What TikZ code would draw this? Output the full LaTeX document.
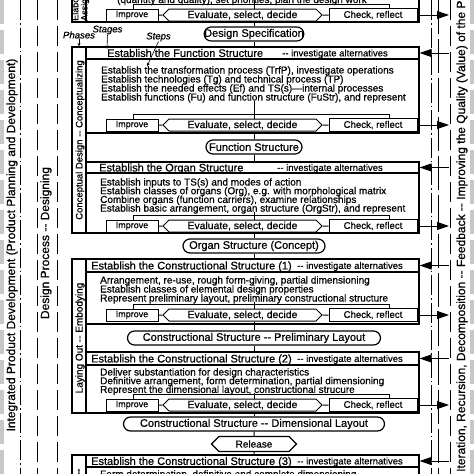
\documentclass[tikz,border=0pt]{standalone}
\usepackage{fontspec}
\setmainfont{Liberation Sans}[FakeBold=0.6]
\usetikzlibrary{shapes.symbols,arrows.meta}
\tikzset{
  ln/.style={line width=1pt},
  boxln/.style={draw,line width=1.2pt},
  hdrbox/.style={draw,line width=1.2pt,minimum width=333pt,minimum height=12pt,inner sep=0pt},
  hdrtxt/.style={anchor=west,inner sep=0pt,font=\fontsize{11}{11}\selectfont,text height=7.9pt,text depth=0pt},
  alttxt/.style={anchor=west,inner sep=0pt,font=\fontsize{9.5}{9.5}\selectfont,text height=6.8pt,text depth=0pt},
  steptxt/.style={anchor=west,inner sep=0pt,font=\fontsize{10}{10}\selectfont,text height=7pt,text depth=0pt},
  impbox/.style={draw,line width=1pt,minimum width=52pt,minimum height=12pt,inner sep=0pt,font=\fontsize{9}{9}\selectfont},
  evalbox/.style={draw,line width=1pt,shape=signal,signal to=east and west,minimum width=159pt,minimum height=12pt,inner sep=0pt,font=\fontsize{10.4}{10.4}\selectfont},
  chkbox/.style={draw,line width=1pt,minimum width=88pt,minimum height=13pt,inner sep=0pt,font=\fontsize{9.6}{9.6}\selectfont},
  resbox/.style={draw,line width=1.2pt,rounded corners=7pt,minimum height=14pt,inner sep=0pt,font=\fontsize{11}{11}\selectfont},
  relbox/.style={draw,line width=1.2pt,shape=signal,signal to=east and west,minimum width=85pt,minimum height=15pt,inner sep=0pt,font=\fontsize{10}{10}\selectfont},
  tip/.style={-{Triangle[length=12pt,width=8pt]}},
  rot/.style={rotate=90,inner sep=0pt},
  lbl/.style={font=\fontsize{9.6}{9.6}\selectfont\itshape,inner sep=0pt},
  lblarrow/.style={line width=0.6pt,-{Stealth[length=3.5pt,width=3pt]}},
  dashdot/.style={line width=1pt,dash pattern=on 20pt off 3pt on 1.5pt off 3pt},
  longdash/.style={line width=1pt,dash pattern=on 20pt off 6pt},
  verylongdash/.style={line width=1pt,dash pattern=on 34pt off 5pt},
  greybar/.style={line width=4pt,draw=black!22,dash pattern=on 24pt off 6pt},
}
\newcommand\irow[2]{%
  \node[impbox] (imp#1) at (132,#2) {Improve};
  \node[evalbox] (ev#1) at (242.5,#2) {Evaluate, select, decide};
  \node[chkbox] (chk#1) at (373,#2) {Check, reflect};
  \draw[ln] (imp#1) -- (ev#1);
  \draw[ln] (ev#1) -- (chk#1);
  \draw[ln] (chk#1.north) ++(16,0) -- ++(0,-4) -| ([xshift=1pt]imp#1.north);
  \draw[ln,tip] (chk#1) -- (chk#1 -| fbr);
}
\begin{document}
\begin{tikzpicture}[x=1pt,y=-1pt]
\useasboundingbox (0,0) rectangle (474,474);
\clip (0,0) rectangle (474,474);
\coordinate (fbr) at (449,0);

% side lanes
\draw[greybar] (2,0) -- (2,474);
\draw[greybar] (472,0) -- (472,474);
\draw[dashdot] (20,0) -- (20,474);
\draw[longdash] (37,0) -- (37,474);
\draw[longdash] (57,0) -- (57,474);
\draw[dashdot] (431,0) -- (431,474);
\draw[verylongdash] (438,0) -- (438,474);
\draw[longdash] (450,0) -- (450,474);
\node[rot,font=\fontsize{12}{12}\selectfont] (ipd) at (12,245) {Integrated Product Development (Product Planning and Development)};
\node[rot,font=\fontsize{12}{12}\selectfont] (dsp) at (46,243) {Design Process -{}- Designing};
\node[rot,anchor=west,font=\fontsize{12}{12}\selectfont] (fbk) at (462,472) {Iteration, Recursion, Decomposition -{}- Feedback -{}- Improving the Quality (Value) of the Product};

% stage 0 (top, cut)
\draw[boxln] (72,-4) rectangle (86,22);
\draw[boxln] (86,-4) rectangle (419,22);
\node[rot,anchor=west,font=\fontsize{9}{9}\selectfont] (ph0a) at (76,21) {Elaborating the};
\node[rot,anchor=west,font=\fontsize{9}{9}\selectfont] (ph0b) at (85,21) {Assignment};
\node[steptxt] (s0a) at (117,-0.5) {(quantity and quality), set priorities, plan the design work};
\irow{0}{15}
\coordinate (fl0) at (254,-4);
\draw[ln] (fl0) -- (fl0 |- ev0.north);

\node[resbox,minimum width=99pt] (ds) at (254,34) {Design Specification};
\draw[ln] (ev0.south -| ds) -- (ds);

% labels
\node[lbl] (lphase) at (79,35) {Phases};
\node[lbl] (lstage) at (107.5,30) {Stages};
\node[lbl] (lstep) at (158.5,37) {Steps};

% phase 1
\draw[boxln] (72,47) rectangle (86,233);
\node[rot,font=\fontsize{9.5}{9.5}\selectfont] (ph1) at (80,140) {Conceptual Design -{}- Conceptualizing};
\node[hdrbox] (hd1) at (252.5,53) {};
\draw[ln] (ds) -- (ds |- hd1.north);
\node[hdrtxt] (hd1a) at (107,53) {Establish the Function Structure};
\node[alttxt] (hd1b) at (282,53) {-{}- investigate alternatives};
\draw[ln,tip] (hd1 -| fbr) -- (hd1.east);
\draw[boxln] (86,59) rectangle (419,133);
\node[steptxt] (s1a) at (101,70) {Establish the transformation process (TrfP), investigate operations};
\node[steptxt] (s1b) at (101,79) {Establish technologies (Tg) and technical process (TP)};
\node[steptxt] (s1c) at (101,88) {Establish the needed effects (Ef) and TS(s)—internal processes};
\node[steptxt] (s1d) at (101,97) {Establish functions (Fu) and function structure (FuStr), and represent};
\irow{1}{125}
\coordinate (fl1) at (254,101);
\draw[ln] (fl1) -- (fl1 |- ev1.north);
\draw[lblarrow] (lphase.south) -- (lphase.south |- hd1.north);
\draw[lblarrow] (lstage.south) -- (hd1a.north west);
\draw[lblarrow] (lstep.south) -- (s1a.north -| 147,0);

\node[resbox,minimum width=96pt] (fs) at (254,147) {Function Structure};
\draw[ln] (ev1.south -| fs) -- (fs);

% stage 2
\node[hdrbox,minimum height=11pt] (hd2) at (252.5,167.5) {};
\draw[ln] (fs) -- (fs |- hd2.north);
\node[hdrtxt] (hd2a) at (99,167.5) {Establish the Organ Structure};
\node[alttxt] (hd2b) at (277,167.5) {-{}- investigate alternatives};
\draw[ln,tip] (hd2 -| fbr) -- (hd2.east);
\draw[boxln] (86,173) rectangle (419,233);
\node[steptxt] (s2a) at (100,182) {Establish inputs to TS(s) and modes of action};
\node[steptxt] (s2b) at (100,190.7) {Establish classes of organs (Org), e.g. with morphological matrix};
\node[steptxt] (s2c) at (100,199.4) {Combine organs (function carriers), examine relationships};
\node[steptxt] (s2d) at (100,208.1) {Establish basic arrangement, organ structure (OrgStr), and represent};
\irow{2}{226}
\coordinate (fl2) at (254,212);
\draw[ln] (fl2) -- (fl2 |- ev2.north);

\node[resbox,minimum width=142pt] (os) at (254,246) {Organ Structure (Concept)};
\draw[ln] (ev2.south -| os) -- (os);

% phase 2
\draw[boxln] (72,259) rectangle (86,413);
\node[rot,font=\fontsize{10}{10}\selectfont] (ph2) at (80,338) {Laying Out -{}- Embodying};
\node[hdrbox,minimum height=13pt] (hd3) at (252.5,265.5) {};
\draw[ln] (os) -- (os |- hd3.north);
\node[hdrtxt] (hd3a) at (91,265.5) {Establish the Constructional Structure (1)};
\node[alttxt] (hd3b) at (297,265.5) {-{}- investigate alternatives};
\draw[ln,tip] (hd3 -| fbr) -- (hd3.east);
\draw[boxln] (86,272) rectangle (419,324);
\node[steptxt] (s3a) at (100,280) {Arrangement, re-use, rough form-giving, partial dimensioning};
\node[steptxt] (s3b) at (100,289) {Establish classes of elemental design properties};
\node[steptxt] (s3c) at (100,298) {Represent preliminary layout, preliminary constructional structure};
\irow{3}{315}
\coordinate (fl3) at (254,302);
\draw[ln] (fl3) -- (fl3 |- ev3.north);

\node[resbox,minimum width=253pt] (pl) at (254,338) {Constructional Structure -{}- Preliminary Layout};
\draw[ln] (ev3.south -| pl) -- (pl);

\node[hdrbox,minimum height=13pt] (hd4) at (252.5,358.5) {};
\draw[ln] (pl) -- (pl |- hd4.north);
\node[hdrtxt] (hd4a) at (91,358.5) {Establish the Constructional Structure (2)};
\node[alttxt] (hd4b) at (297,358.5) {-{}- investigate alternatives};
\draw[ln,tip] (hd4 -| fbr) -- (hd4.east);
\draw[boxln] (86,365) rectangle (419,413);
\node[steptxt] (s4a) at (100,372) {Deliver substantiation for design characteristics};
\node[steptxt] (s4b) at (100,380.7) {Definitive arrangement, form determination, partial dimensioning};
\node[steptxt] (s4c) at (100,389.4) {Represent the dimensional layout, constructional strucure};
\irow{4}{405}
\coordinate (fl4) at (254,393);
\draw[ln] (fl4) -- (fl4 |- ev4.north);

\node[resbox,minimum width=261pt] (dl) at (254,424) {Constructional Structure -{}- Dimensional Layout};
\draw[ln] (ev4.south -| dl) -- (dl);
\node[relbox] (rel) at (254,444) {Release};
\draw[ln] (dl) -- (rel);

% phase 3 (cut)
\draw[boxln] (72,455) rectangle (86,480);
\node[rot,font=\fontsize{10}{10}\selectfont] (ph3) at (80,472) {-{}-};
\node[hdrbox,minimum height=12pt] (hd5) at (252.5,461) {};
\draw[ln] (rel) -- (rel |- hd5.north);
\node[hdrtxt] (hd5a) at (91,461) {Establish the Constructional Structure (3)};
\node[alttxt] (hd5b) at (297,461) {-{}- investigate alternatives};
\draw[ln,tip] (hd5 -| fbr) -- (hd5.east);
\draw[boxln] (86,467) rectangle (419,480);
\node[steptxt] (s5a) at (100,474) {Form determination, definitive and complete dimensioning};
\end{tikzpicture}
\end{document}
